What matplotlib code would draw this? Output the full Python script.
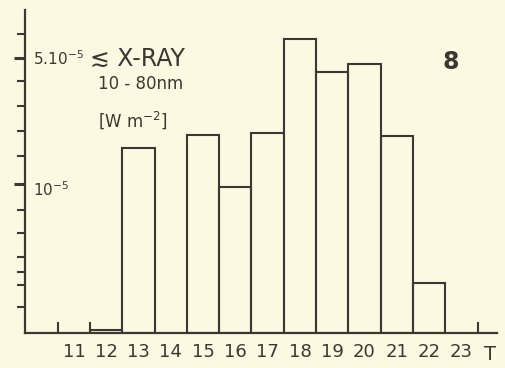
import matplotlib.pyplot as plt
import numpy as np

# Data: X-ray flux per hour (10-80 nm), W m^-2
jam = [11, 12, 13, 14, 15, 16, 17, 18, 19, 20, 21, 22, 23]
fluks = [np.nan, 1.55e-6, 1.58e-5, np.nan, 1.87e-5, 0.96e-5, 1.92e-5,
         6.39e-5, 4.19e-5, 4.64e-5, 1.85e-5, 0.282e-5, np.nan]
label_jam = ['11', '12', '13', '14', '15', '16', '17', '18', '19', '20', '21', '22', '23']

# tick marks on the y axis as drawn
tick_mayor = [1e-5, 5e-5]
tick_minor = [0.207e-5, 0.275e-5, 0.324e-5, 0.393e-5, 0.534e-5, 0.717e-5,
              1.43e-5, 1.97e-5, 2.71e-5, 3.73e-5, 6.8e-5]

warna_latar = '#fbf9e2'
warna_garis = '#3d3731'
y_bawah = 1.49e-6

fig = plt.figure(figsize=(5.06, 3.68), dpi=100, facecolor=warna_latar)
ax = fig.add_axes([0.049, 0.095, 0.933, 0.878], facecolor=warna_latar)

ax.set_yscale('log')
ax.bar(jam, np.array(fluks) - y_bawah, bottom=y_bawah, width=1.0,
       facecolor='none', edgecolor=warna_garis, linewidth=1.5)

ax.set_xlim(9.48, 24.1)
ax.set_ylim(y_bawah, 9.3e-5)

# spines
for s in ['top', 'right']:
    ax.spines[s].set_visible(False)
for s in ['left', 'bottom']:
    ax.spines[s].set_color(warna_garis)
    ax.spines[s].set_linewidth(1.6)

# x axis: labels at bar centres, short marks at some edges
ax.set_xticks(jam)
ax.set_xticklabels(label_jam, fontsize=13, color=warna_garis)
ax.set_xticks([10.5, 11.5, 23.5], minor=True)
ax.tick_params(axis='x', which='major', length=0, pad=7)
ax.tick_params(axis='x', which='minor', direction='in', length=8,
               width=1.5, color=warna_garis)

# y axis: ticks only, labels written inside
ax.set_yticks(tick_mayor)
ax.set_yticks(tick_minor, minor=True)
ax.set_yticklabels([])
ax.set_yticklabels([], minor=True)
ax.tick_params(axis='y', which='major', direction='out', length=8,
               width=2.2, color=warna_garis)
ax.tick_params(axis='y', which='minor', direction='out', length=6,
               width=1.5, color=warna_garis)

ax.text(9.72, 5e-5, '5.10$^{-5}$', fontsize=11, color=warna_garis, va='center')
ax.text(9.72, 0.93e-5, '10$^{-5}$', fontsize=11, color=warna_garis, va='center')

ax.text(11.5, 5e-5, '≲ X-RAY', fontsize=17, color=warna_garis, va='center')
ax.text(11.74, 3.59e-5, '10 - 80nm', fontsize=12, color=warna_garis, va='center')
ax.text(11.74, 2.27e-5, '[W m$^{-2}$]', fontsize=12, color=warna_garis, va='center')
ax.text(22.67, 4.77e-5, '8', fontsize=17, fontweight='bold',
        color=warna_garis, ha='center', va='center')

# axis name for time
ax.text(23.88, -0.065, 'T', fontsize=14, color=warna_garis, ha='center', va='center',
        transform=ax.get_xaxis_transform())

plt.savefig('out.png', dpi=100, facecolor=warna_latar)
